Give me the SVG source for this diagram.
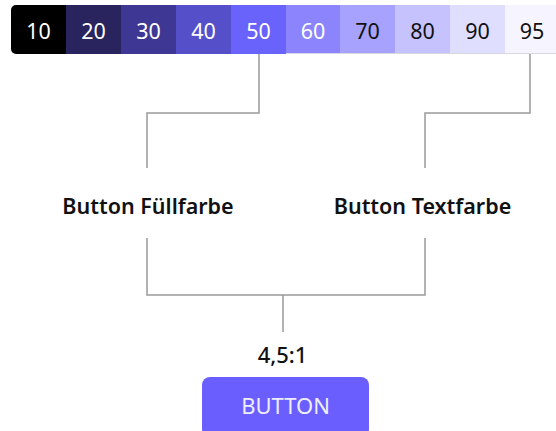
<svg xmlns="http://www.w3.org/2000/svg" width="556" height="431" viewBox="0 0 556 431">
<style>
.cell{font-family:"Noto Sans","Open Sans",sans-serif;font-size:21.5px;text-anchor:middle}
.w{fill:#ffffff}.b{fill:#111111}
.lbl{font-family:"Noto Sans","Open Sans",sans-serif;font-size:21.5px;font-weight:600;fill:#111111;text-anchor:middle}
.ratio{font-family:"Noto Sans","Open Sans",sans-serif;font-size:22px;font-weight:500;fill:#111111;text-anchor:middle}
.btn{font-family:"Noto Sans","Open Sans",sans-serif;font-size:22px;fill:#eeeeff;text-anchor:middle}
.conn{fill:none;stroke:#999999;stroke-width:1.5}
</style>
<defs>
<clipPath id="barclip"><rect x="11" y="5" width="560" height="49" rx="5"/></clipPath>
</defs>
<g id="palette" clip-path="url(#barclip)">
<rect x="11" y="5" width="55" height="49" fill="#000000"/>
<rect x="66" y="5" width="55" height="49" fill="#29235e"/>
<rect x="121" y="5" width="55" height="49" fill="#3e3793"/>
<rect x="176" y="5" width="55" height="49" fill="#5550c9"/>
<rect x="231" y="5" width="55" height="49" fill="#6962fb"/>
<rect x="286" y="5" width="54" height="49" fill="#8b84fd"/>
<rect x="340" y="5" width="55" height="49" fill="#a7a2fd"/>
<rect x="395" y="5" width="55" height="49" fill="#c5c2fe"/>
<rect x="450" y="5" width="55" height="49" fill="#e0defe"/>
<rect x="505" y="5" width="60" height="49" fill="#f6f5ff"/>
<line x1="286" y1="53.5" x2="556" y2="53.5" stroke="#d8d8e0" stroke-width="1"/>
</g>
<g id="palette-labels">
<text class="cell w" x="38.5" y="38.5">10</text>
<text class="cell w" x="93.5" y="38.5">20</text>
<text class="cell w" x="148.5" y="38.5">30</text>
<text class="cell w" x="203.5" y="38.5">40</text>
<text class="cell w" x="258.5" y="38.5">50</text>
<text class="cell w" x="313" y="38.5">60</text>
<text class="cell b" x="367.5" y="38.5">70</text>
<text class="cell b" x="422.5" y="38.5">80</text>
<text class="cell b" x="477.5" y="38.5">90</text>
<text class="cell b" x="532" y="38.5">95</text>
</g>
<g id="connectors">
<polyline class="conn" points="259,54 259,113 147,113 147,168"/>
<polyline class="conn" points="530,54 530,113 425,113 425,168"/>
<polyline class="conn" points="147,238 147,295 425,295 425,238"/>
<line class="conn" x1="283" y1="295" x2="283" y2="332"/>
</g>
<g id="fill-label"><text class="lbl" x="148" y="214">Button Füllfarbe</text></g>
<g id="text-label"><text class="lbl" x="422.5" y="214">Button Textfarbe</text></g>
<g id="ratio"><text class="ratio" x="282.5" y="363">4,5:1</text></g>
<g id="button">
<rect x="202" y="377" width="167" height="60" rx="8" fill="#6a5ffe"/>
<text class="btn" x="285.5" y="414">BUTTON</text>
</g>
</svg>
